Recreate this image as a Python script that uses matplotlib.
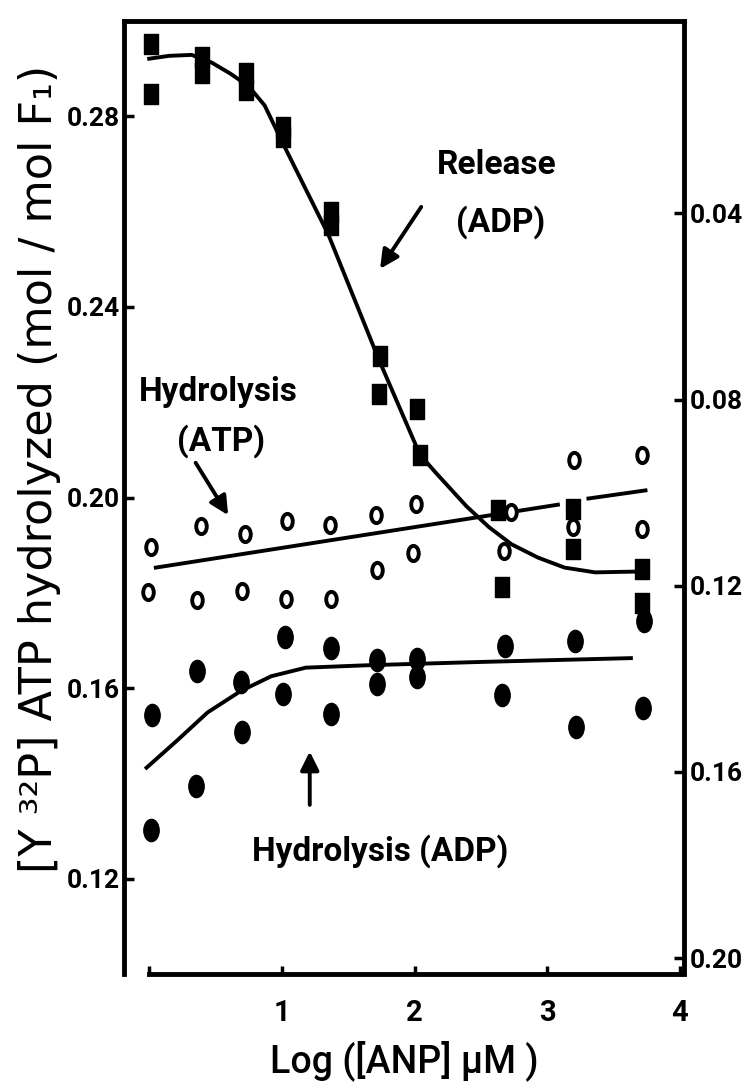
import numpy as np
import matplotlib
matplotlib.use("Agg")
import matplotlib.pyplot as plt
from matplotlib.path import Path
from matplotlib.transforms import Affine2D

# Release (ADP) - filled squares
rel_x = [0.01, 0.01, 0.40, 0.40, 0.73, 0.73, 1.01, 1.01, 1.37, 1.37,
         1.74, 1.73, 2.02, 2.04, 2.63, 2.66, 3.19, 3.19, 3.71, 3.71]
rel_y = [0.2952, 0.2846, 0.2924, 0.2891, 0.2891, 0.2856, 0.2778, 0.2757, 0.2599, 0.2571,
         0.2298, 0.2217, 0.2186, 0.2090, 0.1973, 0.1813, 0.1977, 0.1892, 0.1851, 0.1778]

# Hydrolysis (ATP) - open circles
atp_x = [0.01, 0.39, 0.72, 1.04, 1.36, 1.71, 2.01, 2.73, 3.19, 3.71,
         3.20, 3.71, -0.01, 0.36, 0.70, 1.03, 1.37, 1.72, 1.99, 2.67]
atp_y = [0.1897, 0.1940, 0.1924, 0.1951, 0.1942, 0.1963, 0.1987, 0.1969, 0.1938, 0.1933,
         0.2079, 0.2089, 0.1801, 0.1785, 0.1803, 0.1788, 0.1787, 0.1848, 0.1883, 0.1887]

# Hydrolysis (ADP) - filled circles
adp_x = [0.02, 0.01, 0.36, 0.35, 0.69, 0.70, 1.02, 1.01, 1.37, 1.37,
         1.72, 1.72, 2.02, 2.02, 2.68, 2.66, 3.21, 3.22, 3.73, 3.72]
adp_y = [0.1543, 0.1302, 0.1636, 0.1394, 0.1612, 0.1509, 0.1708, 0.1587, 0.1684, 0.1545,
         0.1660, 0.1609, 0.1662, 0.1624, 0.1688, 0.1585, 0.1699, 0.1518, 0.1741, 0.1559]

# fitted curves
rel_fit_x = [0.00, 0.15, 0.32, 0.47, 0.61, 0.75, 0.87, 1.01, 1.35, 1.73, 2.04,
             2.16, 2.39, 2.56, 2.73, 2.93, 3.13, 3.36, 3.74]
rel_fit_y = [0.2921, 0.2927, 0.2929, 0.2913, 0.2890, 0.2863, 0.2823, 0.2742, 0.2552, 0.2290, 0.2090,
             0.2052, 0.1982, 0.1938, 0.1902, 0.1874, 0.1853, 0.1843, 0.1845]

atp_fit_x1 = [0.05, 3.08]
atp_fit_y1 = [0.1853, 0.1985]
atp_fit_x2 = [3.31, 3.74]
atp_fit_y2 = [0.1998, 0.2015]

adp_fit_x = [-0.02, 0.21, 0.44, 0.69, 0.92, 1.18, 1.64, 2.50, 3.63]
adp_fit_y = [0.1433, 0.1490, 0.1549, 0.1594, 0.1625, 0.1643, 0.1648, 0.1655, 0.1663]

left_ticks = [0.12, 0.16, 0.20, 0.24, 0.28]
right_ticks = [0.04, 0.08, 0.12, 0.16, 0.20]
x_ticks = [0, 1, 2, 3, 4]
x_ticklabels = ['', '1', '2', '3', '4']

narrow = ['Roboto', 'DejaVu Sans']

# slightly tall markers, like in the scanned figure
ell = Path.unit_circle().transformed(Affine2D().scale(0.69, 1.0))
rect = Path.unit_rectangle().transformed(Affine2D().translate(-0.5, -0.5).scale(0.68, 1.0))

fig = plt.figure(figsize=(7.45, 10.91), dpi=100)
ax = fig.add_axes([0.1664, 0.1072, 0.7517, 0.8735])

# right-hand scale first, main axes drawn on top of it
ax2 = ax.twinx()
ax2.set_ylim(0.2034, -0.0013)
ax2.set_yticks(right_ticks)
ax2.set_yticklabels([f'{v:.2f}' for v in right_ticks], fontfamily=narrow, fontweight='bold', fontsize=19)
ax2.tick_params(axis='y', direction='in', length=7, width=2.5, pad=4)
for s in ax2.spines.values():
    s.set_visible(False)
ax.set_zorder(ax2.get_zorder() + 1)
ax.patch.set_visible(False)

ax.plot(rel_fit_x, rel_fit_y, color='black', lw=2.8, zorder=2)
ax.plot(atp_fit_x1, atp_fit_y1, color='black', lw=2.8, zorder=2)
ax.plot(atp_fit_x2, atp_fit_y2, color='black', lw=2.8, zorder=2)
ax.plot(adp_fit_x, adp_fit_y, color='black', lw=2.8, zorder=2)

ax.plot(adp_x, adp_y, ls='none', marker=ell, ms=16, color='black', zorder=3)
ax.plot(rel_x, rel_y, ls='none', marker=rect, ms=14, color='black', zorder=3)
ax.plot(atp_x, atp_y, ls='none', marker=ell, ms=11, mfc='white', mec='black', mew=2.8, zorder=4)

ax.set_xlim(-0.19, 4.03)
ax.set_ylim(0.10, 0.30)

ax.set_xticks(x_ticks)
ax.set_xticklabels(x_ticklabels, fontfamily=narrow, fontweight='bold', fontsize=21)
ax.set_yticks(left_ticks)
ax.set_yticklabels([f'{v:.2f}' for v in left_ticks], fontfamily=narrow, fontweight='bold', fontsize=19)
ax.tick_params(axis='x', direction='in', length=6, width=2.5, pad=18)
ax.tick_params(axis='y', direction='in', length=7, width=2.5, pad=3)

for s in ax.spines.values():
    s.set_linewidth(3.5)
    s.set_color('black')
    s.set_zorder(5)
ax.spines['bottom'].set_bounds(0, 4)

ax.set_xlabel('Log ([ANP] µM )', fontfamily=narrow, fontweight='medium', fontsize=27)
ax.xaxis.set_label_coords(0.50, -0.091)
ax.xaxis.label.set_va('center')

ax.set_ylabel('[Y ³²P] ATP hydrolyzed (mol / mol F₁)', fontfamily='DejaVu Sans', fontsize=32)
ax.yaxis.set_label_coords(-0.150, 0.53)
ax.yaxis.label.set_va('center')

txt = dict(fontfamily=narrow, fontweight='bold', fontsize=24, ha='center', va='center')
arr = dict(arrowstyle='-|>', color='black', lw=2.8, mutation_scale=28, shrinkA=0, shrinkB=0)

ax.text(2.62, 0.2697, 'Release', **txt)
ax.text(2.65, 0.2578, '(ADP)', **txt)
ax.annotate('', xy=(1.74, 0.248), xytext=(2.05, 0.261), arrowprops=arr)

ax.text(0.52, 0.2222, 'Hydrolysis', **txt)
ax.text(0.54, 0.2118, '(ATP)', **txt)
ax.annotate('', xy=(0.595, 0.1963), xytext=(0.35, 0.2073), arrowprops=arr)

ax.text(1.74, 0.1258, 'Hydrolysis (ADP)', **txt)
ax.annotate('', xy=(1.21, 0.1467), xytext=(1.21, 0.1355), arrowprops=arr)

fig.savefig('out.png', dpi=100)
